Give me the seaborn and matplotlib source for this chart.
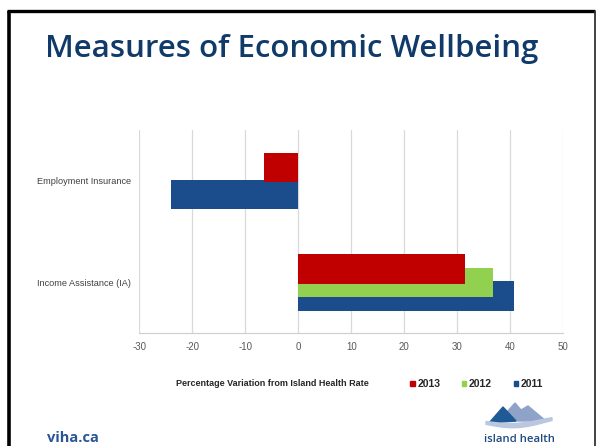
import numpy as np
import pandas as pd
import matplotlib
matplotlib.use("Agg")
import matplotlib.pyplot as plt
from matplotlib.patches import Polygon, Rectangle
import seaborn as sns

# Percentage variation from the Island Health rate, by measure and year
categories = ["Employment Insurance", "Income Assistance (IA)"]
years = ["2013", "2012", "2011"]
values_2013 = [-6.4, 31.4]
values_2012 = [np.nan, 36.8]
values_2011 = [-24.1, 40.7]
x_ticks = [-30, -20, -10, 0, 10, 20, 30, 40, 50]

series = {"2013": values_2013, "2012": values_2012, "2011": values_2011}
colors = {"2013": "#c00000", "2012": "#92d050", "2011": "#1b4c8c"}

df = pd.DataFrame(
    [(c, y, v) for y, vals in series.items() for c, v in zip(categories, vals)],
    columns=["measure", "year", "value"],
)

sns.set_theme(style="white")
plt.rcParams["font.family"] = ["Liberation Sans", "DejaVu Sans"]

W, H = 596, 446
fig = plt.figure(figsize=(W / 100, H / 100), dpi=100)
fig.patch.set_facecolor("white")

def fx(px):
    return np.asarray(px) / W

def fy(py):
    return 1 - np.asarray(py) / H

# slide frame
frame = dict(transform=fig.transFigure, clip_on=False)
fig.add_artist(plt.Line2D([fx(8.5), fx(8.5)], [fy(11), 0], color="black", lw=2.6,
                          solid_capstyle="butt", **frame))
fig.add_artist(plt.Line2D([fx(7.2), fx(595)], [fy(11), fy(11)], color="black", lw=2.4,
                          solid_capstyle="butt", **frame))
fig.add_artist(plt.Line2D([fx(594.5), fx(594.5)], [fy(11), 0], color="#333333", lw=1.3,
                          solid_capstyle="butt", **frame))

fig.text(fx(45), fy(56.7), "Measures of Economic Wellbeing", fontsize=22.5,
         color="#0f3a69", family="Open Sans", fontweight="semibold",
         va="baseline", ha="left")

ax = fig.add_axes([fx(139.3), fy(333.3), fx(563.3) - fx(139.3), fy(130) - fy(333.3)])

# overlapping bars: each year shifted within its band, last drawn on top
bar_h = 0.29
step = 0.133
offsets = {"2013": -step, "2012": 0.0, "2011": step}
for yr in ["2011", "2012", "2013"]:
    sub = df[df["year"] == yr]
    n_before = len(ax.patches)
    sns.barplot(data=sub, x="value", y="measure", order=categories, orient="h",
                color=colors[yr], width=bar_h, saturation=1, ax=ax,
                label=yr, zorder=3)
    for p in ax.patches[n_before:]:
        p.set_y(p.get_y() + offsets[yr])
        p.set_edgecolor("none")

ax.set_xlim(-30, 50)
ax.set_ylim(1.5, -0.5)
ax.set_xticks(x_ticks)
ax.set_xticklabels([str(t) for t in x_ticks])
ax.grid(axis="x", color="#d9d9d9", lw=0.9, zorder=0)
ax.grid(axis="y", visible=False)
for s in ["top", "right", "left"]:
    ax.spines[s].set_visible(False)
ax.spines["bottom"].set_color("#d0d0d0")
ax.spines["bottom"].set_linewidth(0.9)
ax.tick_params(axis="x", length=3, color="#d0d0d0", labelsize=7,
               labelcolor="#595959", pad=3)
ax.tick_params(axis="y", length=0, labelsize=6.6, labelcolor="#404040", pad=6)
ax.set_ylabel("")

ax.set_xlabel("Percentage Variation from Island Health Rate", fontsize=6.5,
              fontweight="bold", color="#262626")
ax.xaxis.set_label_coords((272.5 - 139.3) / (563.3 - 139.3), (333.3 - 384) / (333.3 - 130))
ax.xaxis.label.set_va("center")

handles = [Rectangle((0, 0), 1, 1, color=colors[y]) for y in years]
leg = ax.legend(handles, years, loc="center left", ncol=3, frameon=False,
                bbox_to_anchor=(fx(401), fy(384)), bbox_transform=fig.transFigure,
                handlelength=0.4, handleheight=0.4, handletextpad=0.25,
                columnspacing=2.1, prop={"size": 7.5, "weight": "bold"})
for t in leg.get_texts():
    t.set_color("#262626")

# footer
fig.text(fx(47), fy(442), "viha.ca", fontsize=10.5, fontweight="bold",
         color="#2a5597", family="Open Sans", va="baseline")

logo = dict(transform=fig.transFigure, clip_on=False)
# back mountains (two peaks)
fig.add_artist(Polygon(np.column_stack([fx([499, 515, 521, 528, 546]),
                                        fy([421, 403, 410, 406, 421])]),
                       closed=True, color="#8fa3c9", **logo))
# front mountain
fig.add_artist(Polygon(np.column_stack([fx([489, 503, 516]), fy([423, 407, 421])]),
                       closed=True, color="#1f5a96", **logo))
# swoosh beneath the peaks
wx = np.linspace(486, 552, 50)
t = (wx - 486) / 66
wave_top = 421.5 + 3.0 * np.sin(t * np.pi * 1.15) - 2.5 * t
wave_bot = wave_top + 2.8 + 1.5 * np.sin(t * np.pi)
fig.add_artist(Polygon(np.concatenate([np.column_stack([fx(wx), fy(wave_top)]),
                                       np.column_stack([fx(wx[::-1]), fy(wave_bot[::-1])])]),
                       closed=True, color="#b9c8e0", **logo))
fig.text(fx(519.5), fy(442), "island health", fontsize=8.2, color="#1f4a80",
         family="Open Sans", fontweight="semibold", ha="center", va="baseline")

fig.savefig("out.png", dpi=100)
